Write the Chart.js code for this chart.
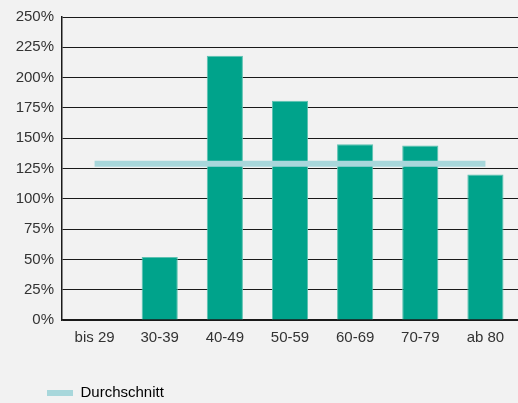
<!DOCTYPE html>
<html>
<head>
<meta charset="utf-8">
<script src="https://cdn.jsdelivr.net/npm/chart.js@4/dist/chart.umd.min.js"></script>
<style>
  html, body { margin: 0; padding: 0; background: #F2F2F2; }
  #wrap { width: 518px; height: 403px; position: relative; }
</style>
</head>
<body>
<div id="wrap"><canvas id="c" width="518" height="403"></canvas></div>
<script>
const categories = ['bis 29', '30-39', '40-49', '50-59', '60-69', '70-79', 'ab 80'];
const ratioValues = [0, 52, 218, 181, 145, 144, 120];
const averageValue = [129, 129, 129, 129, 129, 129, 129];
const averageLabel = 'Durchschnitt';
const yTickMax = 250;
const yTickStep = 25;

const FONT = "'Liberation Sans', Arial, sans-serif";
const LEG_PAD = 10;

const legendShift = {
  id: 'legendShift',
  afterLayout(chart) {
    const L = chart.legend;
    if (!L) return;
    L.left = 47 - LEG_PAD;
    L.top = 393 - 7.5 - LEG_PAD;
  }
};

new Chart(document.getElementById('c'), {
  type: 'bar',
  data: {
    labels: categories,
    datasets: [
      {
        type: 'line',
        label: averageLabel,
        data: averageValue,
        borderColor: '#A8D7DB',
        backgroundColor: '#A8D7DB',
        borderWidth: 6,
        pointRadius: 0,
        pointHoverRadius: 0,
        fill: false,
        order: 0
      },
      {
        type: 'bar',
        label: 'Anteil',
        data: ratioValues,
        backgroundColor: '#00A38B',
        borderColor: '#5CC2B1',
        borderWidth: 1,
        categoryPercentage: 1,
        barPercentage: 0.555,
        order: 1
      }
    ]
  },
  options: {
    responsive: false,
    animation: false,
    devicePixelRatio: 1,
    layout: { padding: { top: 17, right: 0, left: 0, bottom: 0 } },
    plugins: {
      tooltip: { enabled: false },
      legend: {
        display: true,
        position: 'bottom',
        align: 'start',
        labels: {
          padding: LEG_PAD,
          boxWidth: 26,
          boxHeight: 6,
          color: '#333',
          font: { family: FONT, size: 15 },
          generateLabels(chart) {
            const ds = chart.data.datasets[0];
            return [{
              text: ds.label,
              fillStyle: ds.backgroundColor,
              strokeStyle: ds.backgroundColor,
              lineWidth: 0,
              hidden: false,
              datasetIndex: 0
            }];
          }
        }
      }
    },
    scales: {
      x: {
        grid: { display: false, drawTicks: false },
        border: { display: true, color: '#1a1a1a', width: 1.5 },
        ticks: {
          color: '#333',
          padding: 9,
          font: { family: FONT, size: 15 },
          maxRotation: 0
        },
        afterFit(scale) { scale.height = 403 - 320 - (15 + LEG_PAD + 10); }
      },
      y: {
        min: 0,
        max: yTickMax,
        grid: { color: '#1a1a1a', lineWidth: 1, drawTicks: false },
        border: { display: true, color: '#1a1a1a', width: 1.5 },
        ticks: {
          stepSize: yTickStep,
          color: '#333',
          padding: 8,
          font: { family: FONT, size: 15 },
          callback: v => v + '%'
        },
        afterFit(scale) { scale.width = 62; }
      }
    }
  },
  plugins: [legendShift]
});
</script>
</body>
</html>
